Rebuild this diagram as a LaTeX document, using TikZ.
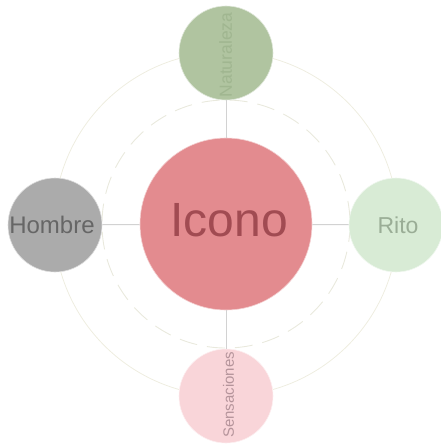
\documentclass[tikz,border=0pt]{standalone}
\usepackage{fontspec}
\setmainfont{Liberation Sans}
\definecolor{cenfill}{HTML}{E38B8F}
\definecolor{centext}{HTML}{A14B52}
\definecolor{natfill}{HTML}{B0C4A0}
\definecolor{nattext}{HTML}{A0B690}
\definecolor{homfill}{HTML}{ABABAB}
\definecolor{homtext}{HTML}{666666}
\definecolor{ritfill}{HTML}{D8EBD5}
\definecolor{rittext}{HTML}{9AAD96}
\definecolor{senfill}{HTML}{F9D5D9}
\definecolor{sentext}{HTML}{B5949B}
\definecolor{ringcol}{HTML}{EEEDE0}
\definecolor{dashcol}{HTML}{E9E9DD}
\definecolor{linkcol}{HTML}{D2D2D2}
\begin{document}
\begin{tikzpicture}[x=1pt,y=-1pt,
  sat/.style={circle,inner sep=0pt,minimum size=94pt,draw=white!60!#1,line width=0.6pt,fill=#1},
  link/.style={draw=linkcol,line width=1pt},
  lbl/.style={inner sep=0pt,font=\fontsize{#1}{#1}\selectfont}]
\useasboundingbox (0,0) rectangle (441,444);
\coordinate (c) at (226,224);
\draw[ringcol,line width=0.8pt] (c) circle[radius=172];
\draw[dashcol,line width=0.9pt,dash pattern=on 18pt off 10pt] (c) circle[radius=124];
\node[circle,inner sep=0pt,minimum size=172pt,fill=cenfill,draw=white!60!cenfill,line width=0.6pt] (ico) at (c) {};
\node[sat=natfill] (nat) at (226,53) {};
\node[sat=senfill] (sen) at (226,396) {};
\node[sat=homfill] (hom) at (55,225) {};
\node[sat=ritfill] (rit) at (396,225) {};
\draw[link] (ico) -- (nat);
\draw[link] (ico) -- (sen);
\draw[link] (ico) -- (hom);
\draw[link] (ico) -- (rit);
\node[lbl=48,text=centext] (icot) at (229,220) {Icono};
\node[lbl=24,text=homtext] (homt) at (52,225) {Hombre};
\node[lbl=23,text=rittext] (ritt) at (398,225) {Rito};
\node[lbl=17.5,text=nattext,rotate=90] (natt) at (225.5,55) {Naturaleza};
\node[lbl=15,text=sentext,rotate=90] (sent) at (228.5,395) {Sensaciones};
\end{tikzpicture}
\end{document}
